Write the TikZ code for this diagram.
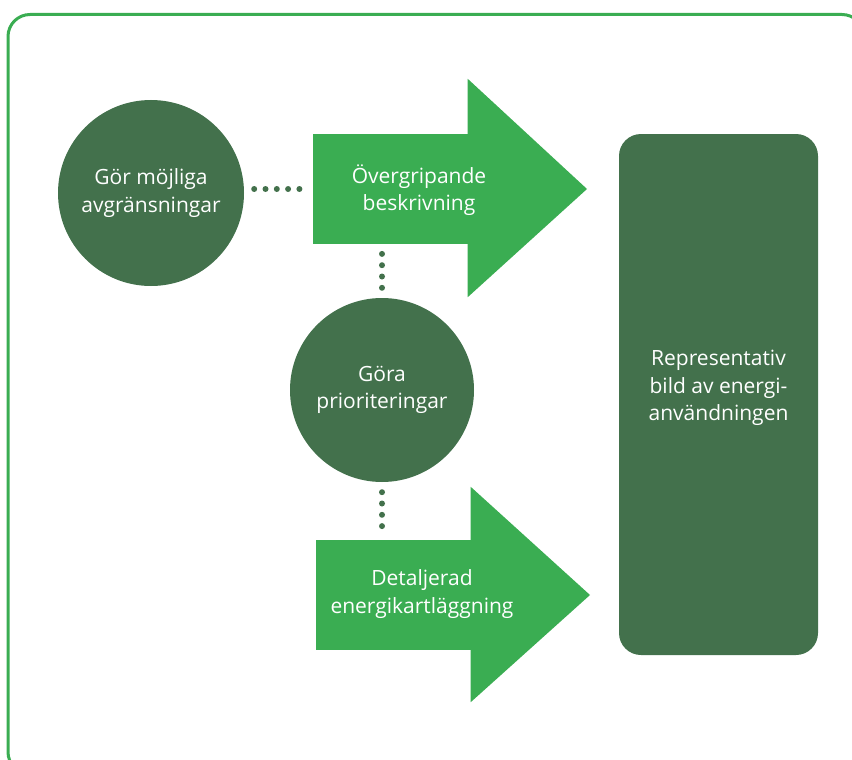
\documentclass[tikz,border=0pt]{standalone}
\usepackage{fontspec}
\setmainfont{Open Sans}
\definecolor{leafgreen}{HTML}{3AAD52}
\definecolor{pinegreen}{HTML}{43714C}
\tikzset{
  stepcircle/.style={circle, fill=pinegreen, text=white, minimum size=#1, inner sep=0pt, align=center, font=\fontsize{21}{27.5}\selectfont},
  arrowbody/.style={rectangle, fill=leafgreen, minimum width=155pt, minimum height=110pt, inner sep=0pt},
  arrowtext/.style={text=white, align=center, font=\fontsize{21}{27.5}\selectfont},
  bigbox/.style={rectangle, rounded corners=22pt, fill=pinegreen, minimum width=199pt, minimum height=521pt},
  dotline/.style={pinegreen, line width=6pt, line cap=round, dash pattern=on 0pt off 11.3pt}
}
\begin{document}
\begin{tikzpicture}[x=1pt, y=-1pt]
  \useasboundingbox (0,0) rectangle (852,760);
  % Frame
  \draw[leafgreen, line width=3pt, rounded corners=22pt] (8,14.5) rectangle (864,774);

  % Arrows
  \node[arrowbody] (ovbody) at (390.5,189) {};
  \fill[leafgreen] ([xshift=-0.5pt, yshift=55pt]ovbody.north east) -- (587,189) -- ([xshift=-0.5pt, yshift=-53pt]ovbody.south east) -- cycle;
  \node[arrowtext] (overgrip) at (419,190) {Övergripande\\beskrivning};

  \node[arrowbody] (detbody) at (393.5,595) {};
  \fill[leafgreen] ([xshift=-0.5pt, yshift=53pt]detbody.north east) -- (590,595) -- ([xshift=-0.5pt, yshift=-52pt]detbody.south east) -- cycle;
  \node[arrowtext] (detalj) at (422,594) {Detaljerad\\energikartläggning};

  % Circles
  \node[stepcircle=186pt] (avgr) at (151,193) {Gör möjliga\\avgränsningar};
  \node[stepcircle=184pt] (prio) at (382,390) {Göra\\prioriteringar};

  % Result
  \node[bigbox] (rep) at (718.5,394.5) {};
  \node[arrowtext] (reptext) at (718.5,388) {Representativ\\bild av energi-\\användningen};

  % Dots
  \draw[dotline, shorten <=10pt, shorten >=11pt] (avgr.east |- ovbody.west) -- (ovbody.west);
  \draw[dotline, shorten <=10pt, shorten >=9pt] (prio.north) -- (prio.north |- ovbody.south);
  \draw[dotline, shorten <=10pt, shorten >=12.5pt] (prio.south) -- (prio.south |- detbody.north);
\end{tikzpicture}
\end{document}
